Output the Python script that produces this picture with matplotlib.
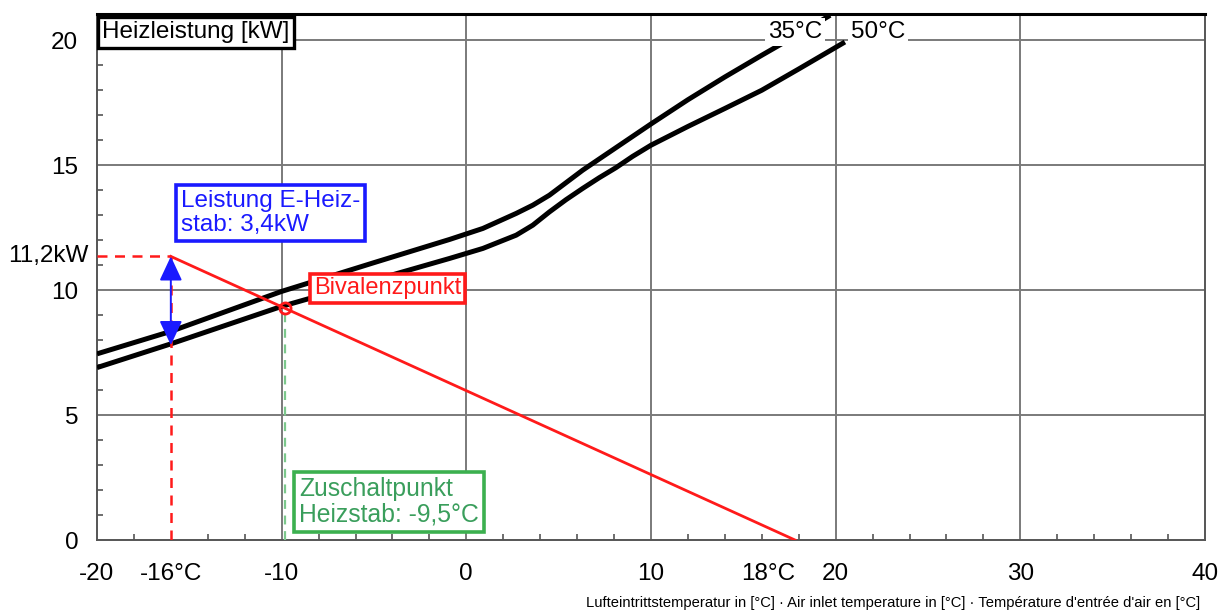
import numpy as np
import matplotlib.pyplot as plt

plt.rcParams['font.family'] = ['Liberation Sans', 'DejaVu Sans']

# heating capacity curves
temp_35 = [-20, -16, -10, -5, -0.9, 0.9, 2.7, 3.6, 4.5, 5.4, 6.3, 7.1, 7.9, 9, 10, 12, 14, 16, 18, 19.7]
power_35 = [7.45, 8.35, 9.95, 11.1, 12.03, 12.47, 13.07, 13.4, 13.8, 14.3, 14.8, 15.2, 15.6, 16.15, 16.65, 17.62, 18.53, 19.4, 20.25, 21.0]
temp_50 = [-20, -16, -10, -5, -0.9, 0.9, 2.7, 3.6, 4.5, 5.4, 6.3, 7.2, 8.1, 9, 10, 12, 14, 16, 18, 20.5]
power_50 = [6.9, 7.85, 9.35, 10.4, 11.27, 11.67, 12.2, 12.6, 13.13, 13.62, 14.07, 14.5, 14.9, 15.35, 15.8, 16.55, 17.27, 18.0, 18.85, 19.93]

# building heat load line and points
load_temp = [-16, 17.8]
load_power = [11.35, 0]
biv_temp, biv_power = -9.8, 9.3
arrow_top, arrow_bottom = 11.35, 7.8

xticks = [-20, -16, -10, 0, 10, 20, 30, 40]
xticklabels = ['-20', '-16°C', '-10', '0', '10', '20', '30', '40']
yticks = [0, 5, 10, 15, 20]
yticklabels = ['0', '5', '10', '15', '20']

fig = plt.figure(figsize=(12.32, 6.12), dpi=100)
ax = fig.add_axes([0.0787, 0.1176, 0.8994, 0.8595])
ax.set_xlim(-20, 40)
ax.set_ylim(0, 21.05)

# grid
for gx in [-10, 0, 10, 20, 30]:
    ax.axvline(gx, color='#7a7a7a', lw=1.4, zorder=1)
for gy in [5, 10, 15, 20]:
    ax.axhline(gy, color='#7a7a7a', lw=1.4, zorder=1)

ax.plot(temp_35, power_35, color='black', lw=3.6, zorder=3, solid_capstyle='butt')
ax.plot(temp_50, power_50, color='black', lw=3.6, zorder=3, solid_capstyle='butt')

ax.plot(load_temp, load_power, color='#ff1a1a', lw=2, zorder=4)
ax.plot([-20, -16], [arrow_top, arrow_top], color='#ff1a1a', lw=1.8, ls=(0, (4, 3)), zorder=4, clip_on=False)
ax.plot([-16, -16], [0, arrow_top], color='#ff1a1a', lw=1.8, ls=(0, (4, 3)), zorder=4)
ax.plot([biv_temp, biv_temp], [0, biv_power], color='#7cc88c', lw=1.6, ls=(0, (4, 3)), zorder=4)
ax.plot(biv_temp, biv_power, 'o', mfc='none', mec='#ff1a1a', mew=2, ms=8, zorder=5)

ax.annotate('', xy=(-16, arrow_bottom), xytext=(-16, arrow_top),
            arrowprops=dict(arrowstyle='<|-|>,head_length=1.5,head_width=0.7',
                            color='#1a1aff', lw=1.4, shrinkA=0, shrinkB=0), zorder=6)

# labels
fs = 17.5
ax.text(0.0045, 0.9655, 'Heizleistung [kW]', transform=ax.transAxes, fontsize=17.5,
        ha='left', va='center', zorder=7,
        bbox=dict(boxstyle='square,pad=0.18', fc='white', ec='black', lw=2.4))
ax.text(17.8, 20.32, '35°C', fontsize=fs, ha='center', va='center', zorder=7,
        bbox=dict(boxstyle='square,pad=0.12', fc='white', ec='none'))
ax.text(22.3, 20.32, '50°C', fontsize=fs, ha='center', va='center', zorder=7,
        bbox=dict(boxstyle='square,pad=0.12', fc='white', ec='none'))
ax.text(-15.45, 13.08, 'Leistung E-Heiz-\nstab: 3,4kW', fontsize=fs, color='#1a1aff',
        ha='left', va='center', linespacing=1.1, zorder=7,
        bbox=dict(boxstyle='square,pad=0.2', fc='white', ec='#1a1aff', lw=2.6))
ax.text(-8.25, 10.08, 'Bivalenzpunkt', fontsize=17, color='#ff1a1a',
        ha='left', va='center', zorder=7,
        bbox=dict(boxstyle='square,pad=0.15', fc='white', ec='#ff1a1a', lw=2.6))
ax.text(-9.06, 1.52, 'Zuschaltpunkt\nHeizstab: -9,5°C', fontsize=17.8, color='#3a9e5c',
        ha='left', va='center', linespacing=1.1, zorder=7,
        bbox=dict(boxstyle='square,pad=0.2', fc='white', ec='#3cb04f', lw=2.6))

# axes styling
for side in ['left', 'bottom', 'right']:
    ax.spines[side].set_color('#555555')
    ax.spines[side].set_linewidth(1.4)
ax.spines['top'].set_color('black')
ax.spines['top'].set_linewidth(2.2)

ax.set_xticks(xticks)
ax.set_xticklabels(xticklabels)
ax.set_yticks(yticks)
ax.set_yticklabels(yticklabels)
ax.set_xticks(np.arange(-18, 40, 2), minor=True)
ax.set_yticks(np.arange(1, 21, 1), minor=True)
ax.tick_params(axis='both', which='major', length=0, labelsize=17.5)
ax.tick_params(axis='x', which='major', pad=16.5)
ax.tick_params(axis='y', which='major', pad=13.5)
ax.tick_params(axis='both', which='minor', direction='in', length=4, width=1.2, color='#555555')

# 11,2kW label sits closer to the axis than the other y labels
ax.annotate('11,2kW', xy=(0, arrow_top), xycoords=('axes fraction', 'data'),
            xytext=(-6, 0), textcoords='offset points', fontsize=17.5,
            ha='right', va='center', annotation_clip=False)

# 18°C label right-aligned at the end of the load line
ax.text(17.8, -0.044, '18°C', transform=ax.get_xaxis_transform(), fontsize=17.5,
        ha='right', va='top')

fig.text(0.974, 0.004, "Lufteintrittstemperatur in [°C] · Air inlet temperature in [°C] · "
         "Température d'entrée d'air en [°C]", fontsize=10.6, ha='right', va='bottom')

fig.savefig('out.png', dpi=100)
